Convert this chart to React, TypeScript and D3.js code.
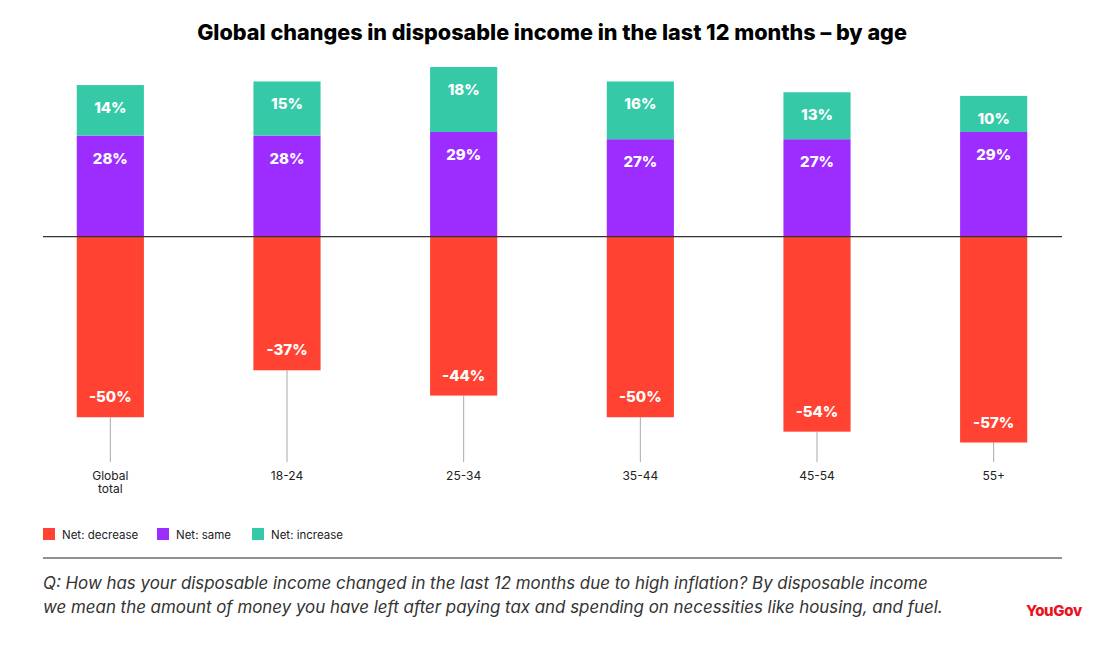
import React from "react";
import * as d3 from "d3";

const categories = ["Global\ntotal", "18-24", "25-34", "35-44", "45-54", "55+"];
const decrease = [-50, -37, -44, -50, -54, -57];
const same = [28, 28, 29, 27, 27, 29];
const increase = [14, 15, 18, 16, 13, 10];

const seriesNames = ["Net: decrease", "Net: same", "Net: increase"];
const colors = ["#ff4231", "#9d2cff", "#35c9a8"];

const W = 1117;
const H = 653;

export default function App() {
  const x = d3.scaleBand<string>().domain(categories).range([22, 1082]).paddingInner(0.62).paddingOuter(0.31);
  const y = d3.scaleLinear().domain([-57, 47]).range([442.5, 67]);
  const bw = x.bandwidth();
  const zero = y(0);
  const font = "Inter, 'Open Sans', sans-serif";

  return (
    <svg width={W} height={H} style={{ position: "absolute", left: 0, top: 0, background: "#fff" }}>
      <text x={552} y={40} textAnchor="middle" fontFamily={font} fontWeight={800} fontSize={21.6} fill="#000">
        Global changes in disposable income in the last 12 months – by age
      </text>
      {categories.map((c, i) => {
        const x0 = x(c)!;
        const cx = x0 + bw / 2;
        const yb = y(decrease[i]);
        const ySameTop = y(same[i]);
        const yIncTop = y(same[i] + increase[i]);
        const lines = c.split("\n");
        return (
          <g key={c}>
            <line x1={cx} x2={cx} y1={yb} y2={462} stroke="#aaa" strokeWidth={1} />
            <rect x={x0} y={zero} width={bw} height={yb - zero} fill={colors[0]} />
            <rect x={x0} y={ySameTop} width={bw} height={zero - ySameTop} fill={colors[1]} />
            <rect x={x0} y={yIncTop} width={bw} height={ySameTop - yIncTop} fill={colors[2]} />
            <text x={cx} y={yIncTop + 28} textAnchor="middle" fontFamily={font} fontWeight={800} fontSize={15} fill="#fff">{increase[i]}%</text>
            <text x={cx} y={ySameTop + 28} textAnchor="middle" fontFamily={font} fontWeight={800} fontSize={15} fill="#fff">{same[i]}%</text>
            <text x={cx} y={yb - 15} textAnchor="middle" fontFamily={font} fontWeight={800} fontSize={15} fill="#fff">{decrease[i]}%</text>
            {lines.map((l, k) => (
              <text key={k} x={cx} y={480 + k * 13} textAnchor="middle" fontFamily={font} fontSize={12} fill="#222">{l}</text>
            ))}
          </g>
        );
      })}
      <line x1={43} x2={1062} y1={zero} y2={zero} stroke="#333" strokeWidth={1.2} />
      {seriesNames.map((s, i) => {
        const lx = [43, 157, 252][i];
        return (
          <g key={s}>
            <rect x={lx} y={528} width={12} height={12} fill={colors[i]} />
            <text x={lx + 19} y={539} fontFamily={font} fontSize={11.5} fill="#222">{s}</text>
          </g>
        );
      })}
      <line x1={43} x2={1062} y1={558} y2={558} stroke="#222" strokeWidth={1} />
      <text x={43} y={589} fontFamily={font} fontStyle="italic" fontSize={16.9} fill="#333">
        Q: How has your disposable income changed in the last 12 months due to high inflation? By disposable income
      </text>
      <text x={43} y={613} fontFamily={font} fontStyle="italic" fontSize={16.9} fill="#333">
        we mean the amount of money you have left after paying tax and spending on necessities like housing, and fuel.
      </text>
      <text x={1082} y={616} textAnchor="end" fontFamily={font} fontWeight={800} fontSize={15} fill="#e8131e" letterSpacing={-0.3}>YouGov</text>
    </svg>
  );
}
